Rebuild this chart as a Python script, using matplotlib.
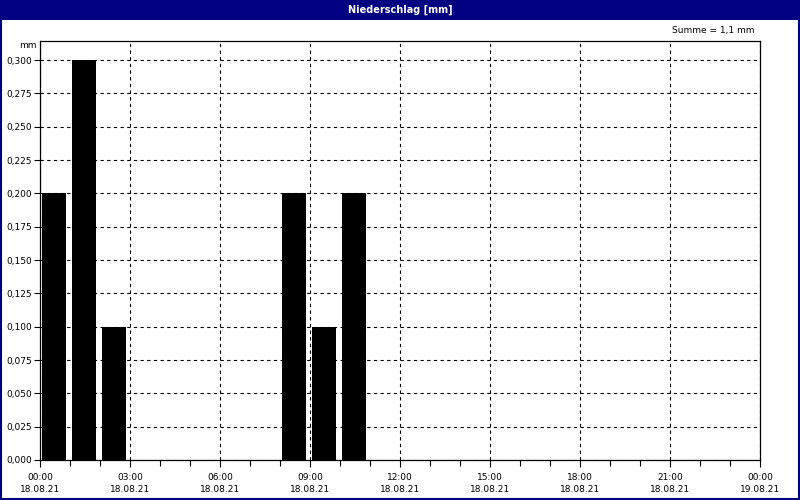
import numpy as np
import matplotlib.pyplot as plt
from matplotlib.patches import Rectangle

# hourly precipitation, 18.08.21
hours = [0, 1, 2, 8, 9, 10]
values = [0.2, 0.3, 0.1, 0.2, 0.1, 0.2]
yticks = [0.0, 0.025, 0.05, 0.075, 0.1, 0.125, 0.15, 0.175, 0.2, 0.225, 0.25, 0.275, 0.3]
xticks = [0, 3, 6, 9, 12, 15, 18, 21, 24]
xlabels = ['00:00\n18.08.21', '03:00\n18.08.21', '06:00\n18.08.21', '09:00\n18.08.21',
           '12:00\n18.08.21', '15:00\n18.08.21', '18:00\n18.08.21', '21:00\n18.08.21',
           '00:00\n19.08.21']

navy = '#000080'
fig = plt.figure(figsize=(8, 5), dpi=100)
fig.patch.set_facecolor('white')

# frame + title bar
fig.add_artist(Rectangle((1 / 800, 1 / 500), 798 / 800, 498 / 500, transform=fig.transFigure,
                         fill=False, edgecolor=navy, lw=1.5))
fig.add_artist(Rectangle((0, 1 - 20 / 500), 1, 20 / 500, transform=fig.transFigure,
                         facecolor=navy, edgecolor=navy, lw=0))
fig.text(0.5, 1 - 10 / 500, 'Niederschlag [mm]', color='white', ha='center', va='center',
         fontsize=7, fontweight='bold')

ax = fig.add_axes([40 / 800, 40 / 500, 720 / 800, 419 / 500])
ax.bar(np.array(hours) + 0.05, values, width=0.82, align='edge', color='black', zorder=3)

ax.set_xlim(0, 24)
ax.set_ylim(0, 0.3143)
ax.set_yticks(yticks)
ax.set_yticklabels([('%.3f' % v).replace('.', ',') for v in yticks])
ax.set_xticks(xticks)
ax.set_xticklabels(xlabels, linespacing=1.5)
ax.set_xticks(range(25), minor=True)
ax.tick_params(axis='both', labelsize=6.5, direction='out', length=4, width=0.8, pad=2)
ax.tick_params(axis='x', which='major', length=5, pad=4)
ax.tick_params(axis='x', which='minor', length=4, width=0.8)
ax.grid(True, which='major', color='black', linestyle=(0, (3, 3)), linewidth=0.8, zorder=1)
for s in ax.spines.values():
    s.set_linewidth(0.9)

ax.text(-0.005, 0.99, 'mm', transform=ax.transAxes, ha='right', va='center', fontsize=6.5)
fig.text(755 / 800, 1 - 31 / 500, 'Summe = 1,1 mm', ha='right', va='center', fontsize=6.5)

plt.savefig('out.png', dpi=100)
